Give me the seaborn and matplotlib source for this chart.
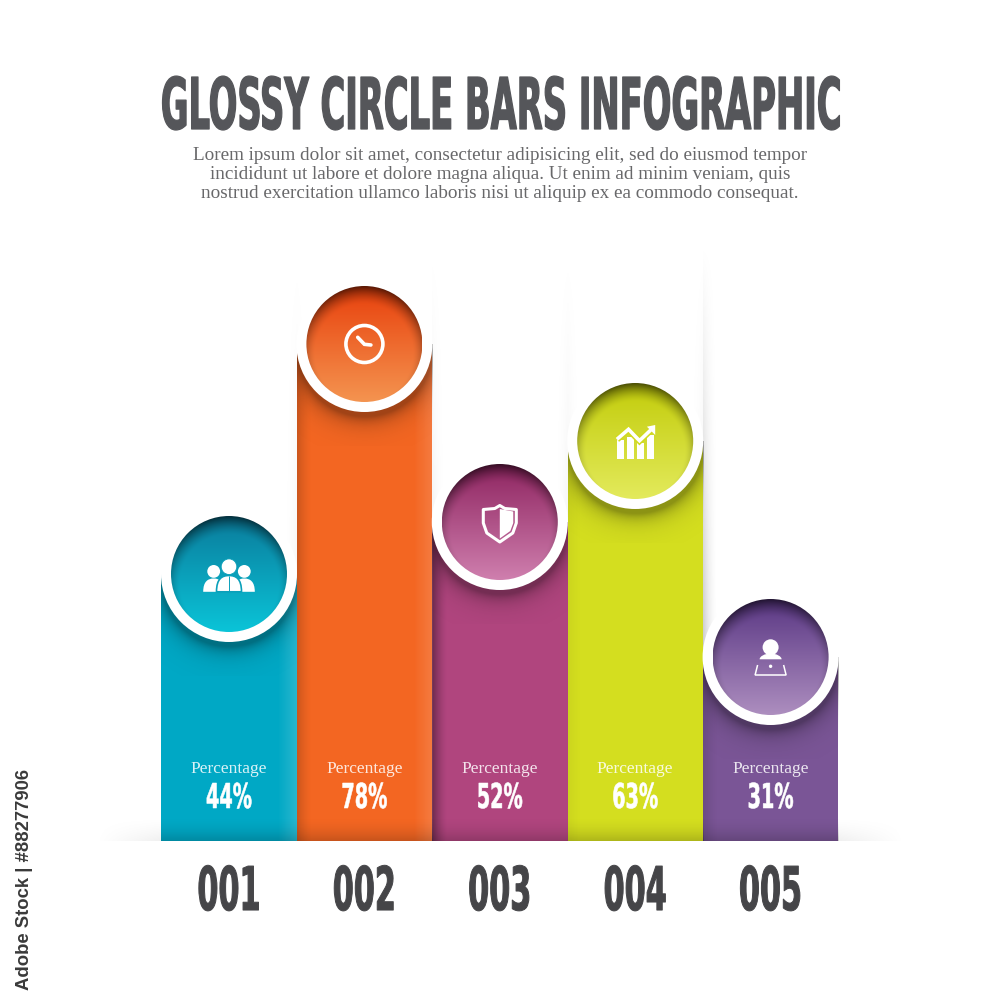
import numpy as np
import pandas as pd
import seaborn as sns
import matplotlib
matplotlib.use("Agg")
import matplotlib.pyplot as plt
from matplotlib.font_manager import FontProperties
from matplotlib.patches import Circle, Ellipse, Polygon, PathPatch, Rectangle
from matplotlib.path import Path
from matplotlib.patheffects import AbstractPathEffect
from matplotlib.textpath import TextPath
from matplotlib.transforms import Affine2D

# data
codes = ["001", "002", "003", "004", "005"]
percent = [44, 78, 52, 63, 31]
bar_height = [267, 497, 319, 400, 184]
bar_colors = ["#00a8c5", "#f36622", "#b0457e", "#d4de1f", "#7a5596"]
circle_top = ["#0a7b9b", "#e8400c", "#8e2460", "#c2cc0a", "#5a3784"]
circle_bottom = ["#0bc4d8", "#f49450", "#cf7fae", "#e3ea5c", "#ad8ebf"]

title = "GLOSSY CIRCLE BARS INFOGRAPHIC"
body = ("Lorem ipsum dolor sit amet, consectetur adipisicing elit, sed do eiusmod tempor\n"
        "incididunt ut labore et dolore magna aliqua. Ut enim ad minim veniam, quis\n"
        "nostrud exercitation ullamco laboris nisi ut aliquip ex ea commodo consequat.")
credit = "Adobe Stock | #88277906"

SLAB = "Liberation Serif"
UNIT = 135.4   # pixels per category
R_IN, R_OUT = 58, 68


class Tall(AbstractPathEffect):
    # the heavy condensed look: same text, stretched up from its baseline
    def __init__(self, sy, base_y, stroke=0.0):
        super().__init__()
        self.sy, self.base_y, self.stroke = sy, base_y, stroke

    def draw_path(self, renderer, gc, tpath, affine, rgbFace=None):
        aff = affine + Affine2D().translate(0, -self.base_y).scale(1, self.sy).translate(0, self.base_y)
        gc0 = renderer.new_gc()
        gc0.copy_properties(gc)
        gc0.set_linewidth(self.stroke)
        gc0.set_foreground(rgbFace)
        renderer.draw_path(gc0, tpath, aff, rgbFace)
        gc0.restore()


def heavy(txt, width, cap, base_y, stroke):
    # size the text to the wanted width, then stretch it to the wanted cap height
    txt.set_family("DejaVu Sans")
    txt.set_stretch("condensed")
    txt.set_weight("bold")
    rend = fig.canvas.get_renderer()
    txt.set_size(txt.get_size() * width / txt.get_window_extent(rend).width)
    prop = FontProperties(family="DejaVu Sans", stretch="condensed", weight="bold")
    ratio = TextPath((0, 0), "H", size=100, prop=prop).get_extents().height / 100
    sy = cap / (ratio * txt.get_size() * 100 / 72)
    txt.set_path_effects([Tall(sy, base_y, stroke)])


def rgb(c):
    return np.array(matplotlib.colors.to_rgb(c))


sns.set_theme(style="white")
fig = plt.figure(figsize=(10, 10), dpi=100)
ax = fig.add_axes([0, 0, 1, 1])

df = pd.DataFrame({"code": codes, "height": bar_height})
sns.barplot(data=df, x="code", y="height", hue="code", palette=bar_colors, width=1.0,
            saturation=1, legend=False, ax=ax, zorder=1, linewidth=0, edgecolor="none")
ax.set_xlabel("")
ax.set_ylabel("")


def put(img, x0, x1, y0, y1, z):
    # img row 0 is at y1 (the upper edge)
    return ax.imshow(img, extent=[x0, x1, y0, y1], origin="upper", aspect="auto",
                     interpolation="bilinear", zorder=z)


# floor shadow behind the bars
w = np.linspace(0, 1, 300)
edge = np.clip(np.minimum(w, 1 - w) / 0.12, 0, 1)
v = np.linspace(0, 1, 30)[:, None]
floor = np.zeros((30, 300, 4))
floor[..., 3] = 0.09 * v ** 1.5 * edge[None, :]
put(floor, -1.0, 5.0, 0, 26, 0.5)

# soft edges of the empty columns above the bars
for x_edge, side, strength in [(0.5, -1, 0.06), (0.5, 1, 0.06), (1.5, 1, 0.10), (2.5, -1, 0.08),
                               (2.5, 1, 0.08), (3.5, -1, 0.08), (3.5, 1, 0.30)]:
    ww = 16 / UNIT
    xs = np.linspace(0, 1, 30)
    a = (1 - xs) ** 2 if side > 0 else xs ** 2
    ys = np.linspace(0, 1, 200)[:, None]
    img = np.zeros((200, 30, 4))
    img[..., 3] = strength * ys * a[None, :]
    if side > 0:
        put(img, x_edge, x_edge + ww, 0, 600, 0.8)
    else:
        put(img, x_edge - ww, x_edge, 0, 600, 0.8)

# edge shading on the bars
left_dark = [0.0, 0.16, 0.38, 0.04, 0.12]
right_light = [0.16, 0.14, 0.0, 0.0, 0.0]
for i, h in enumerate(bar_height):
    xs = np.linspace(0, 1, 136)
    ld = left_dark[i] * np.clip(1 - xs / 0.11, 0, 1) ** 1.5
    rl = right_light[i] * np.clip((xs - 0.86) / 0.14, 0, 1)
    img = np.zeros((1, 136, 4))
    img[0, :, :3] = np.where((rl > 0)[:, None], 1.0, 0.0)
    img[0, :, 3] = ld + rl
    put(img, i - 0.5, i + 0.5, 0, h, 2)
    # bottom darkening
    ys = np.linspace(0, 1, 40)[:, None]
    img = np.zeros((40, 2, 4))
    img[..., 3] = 0.18 * ys ** 2
    put(img, i - 0.5, i + 0.5, 0, 26, 2.1)

# rings and glossy circles, placed on the bar tops
n = 240
yy, xx = np.mgrid[-1:1:n * 1j, -1:1:n * 1j]
for i, h in enumerate(bar_height):
    # shadow under the ring, kept inside the bar
    span = R_OUT + 34
    sh_n = 200
    sy_, sx_ = np.mgrid[-span:span:sh_n * 1j, -span:span:sh_n * 1j]
    d = np.hypot(sx_, sy_ - 5)
    img = np.zeros((sh_n, sh_n, 4))
    img[..., 3] = 0.34 * np.exp(-np.clip(d - R_OUT, 0, None) / 9)
    im = put(img, i - span / UNIT, i + span / UNIT, h - span, h + span, 3)
    im.set_clip_path(Rectangle((i - 0.5, 0), 1, h, transform=ax.transData))

    ax.add_patch(Ellipse((i, h), 2 * R_OUT / UNIT, 2 * R_OUT, fc="white", ec="none", zorder=4))

    t = ((yy + 1) / 2)[..., None]
    col = rgb(circle_top[i]) * (1 - t) + rgb(circle_bottom[i]) * t
    rim = np.clip((np.hypot(xx, yy - 0.16) - 0.84) / 0.32, 0, 1) ** 1.6
    col = col * (1 - 0.62 * rim[..., None])
    img = np.dstack([col, np.ones((n, n))])
    im = put(img, i - R_IN / UNIT, i + R_IN / UNIT, h - R_IN, h + R_IN, 5)
    clip = Ellipse((i, h), 2 * R_IN / UNIT, 2 * R_IN, transform=ax.transData)
    im.set_clip_path(clip)

ax.set_xlim(-229 / UNIT, (1000 - 229) / UNIT)
ax.set_ylim(-159, 841)
ax.grid(False)
sns.despine(ax=ax, left=True, top=True, right=True, bottom=True)
ax.spines["bottom"].set_position(("data", 0))
ax.set_yticks([])
fig.canvas.draw()


def icon_tf(i):
    # local icon coordinates are image pixels, y going down, from the circle centre
    cx, cy = ax.transData.transform((i, bar_height[i]))
    return Affine2D().scale(1, -1).translate(cx, cy)


def body_path(cx, hw, top, bot):
    verts = [(cx - hw, bot), (cx - hw, top + 3), (cx - hw * 0.55, top), (cx, top),
             (cx + hw * 0.55, top), (cx + hw, top + 3), (cx + hw, bot), (cx - hw, bot)]
    cc = [Path.MOVETO, Path.CURVE4, Path.CURVE4, Path.CURVE4,
          Path.CURVE4, Path.CURVE4, Path.CURVE4, Path.CLOSEPOLY]
    return Path(verts, cc)


def add(i, p):
    p.set_transform(icon_tf(i))
    p.set_zorder(6)
    p.set_clip_on(False)
    ax.add_artist(p)
    return p


# 001 people
mid = matplotlib.colors.to_hex((rgb(circle_top[0]) + rgb(circle_bottom[0])) / 2)
for sx in (-15.3, 15.3):
    add(0, Circle((sx, -2.6), 6.4, fc="white", ec="none"))
    add(0, PathPatch(body_path(sx, 10.5, 4.5, 17.8), fc="white", ec="none"))
add(0, Circle((0, -7.3), 7.8, fc="white", ec=mid, lw=0.6))
add(0, PathPatch(body_path(0, 12.5, 1.5, 17.8), fc="white", ec=mid, lw=1.2))
add(0, PathPatch(Path([(0, 2), (0, 17.5)]), ec=mid, lw=0.7, fc="none"))

# 002 clock
add(1, Circle((0, 0), 18.5, fc="none", ec="white", lw=2.6))
add(1, PathPatch(Path([(-6.7, -6.7), (0, 0.3), (6.5, 1)]), fc="none", ec="white", lw=2.6, capstyle="round"))

# 003 shield
sh = [(0, -16.5), (-5, -13.5), (-16.5, -12.5), (-16.5, 1), (-13, 11), (0, 20),
      (13, 11), (16.5, 1), (16.5, -12.5), (5, -13.5), (0, -16.5)]
add(2, Polygon(sh, closed=True, fc="none", ec="white", lw=2.2, joinstyle="round"))
add(2, Polygon([(0, -13), (13.5, -10.5), (13.5, 1), (10.5, 9), (0, 16.5)], closed=True, fc="white", ec="none"))

# 004 growth
lime = "#d1da1e"
for bx, top in zip([-14.7, -4.7, 5.3, 15.3], [-1, -4.3, 2.3, -6]):
    add(3, Rectangle((bx - 3.4, top), 6.8, 18 - top, fc="white", ec="none"))
line = Path([(-18.3, -1.7), (-6.7, -11.7), (4.3, -0.3), (15.5, -11)])
add(3, PathPatch(line, fc="none", ec=lime, lw=4.8))
add(3, PathPatch(line, fc="none", ec="white", lw=2.6))
add(3, Polygon([(20, -16), (11.7, -14.3), (20, -6)], closed=True, fc="white", ec="none"))

# 005 person at laptop
add(4, Circle((0, -9.7), 8, fc="white", ec="none"))
add(4, PathPatch(body_path(0, 11, -3.5, 2.3), fc="white", ec="none"))
add(4, Polygon([(-13, 8), (-15.5, 18), (15.5, 18), (13, 8)], closed=False, fc="none", ec="white", lw=1.1))
add(4, Circle((0, 9.3), 1.7, fc="white", ec="none"))

# texts inside the bars
for i, p in enumerate(percent):
    ax.text(i, 68, "Percentage", ha="center", va="baseline", family=SLAB, fontsize=12.5,
            color="white", alpha=0.85, zorder=7)
    tx = ax.text(i, 33, f"{p}%", ha="center", va="baseline", fontsize=18, color="white", zorder=7)
    heavy(tx, 46, 25, ax.transData.transform((i, 33))[1], 0.4)

# category codes under the bars
ax.set_xticks(range(len(codes)), codes)
ax.tick_params(axis="x", length=0, pad=49.7, labelbottom=True)
base = ax.transData.transform((0, -69))[1]
for lab in ax.get_xticklabels():
    lab.set_size(30)
    lab.set_color("#454548")
    lab.set_va("baseline")
    heavy(lab, 63, 44, base, 0.7)

# heading
tt = fig.text(0.501, 0.871, title, ha="center", va="baseline", fontsize=28, color="#55565a")
heavy(tt, 682, 52, 871, 0.9)
fig.text(0.5, 0.8255, body, ha="center", va="center", family=SLAB, fontsize=13.75,
         color="#68686a", linespacing=1.13)
fig.text(0.0245, 0.12, credit, rotation=90, ha="center", va="center", family="Liberation Sans",
         weight="bold", fontsize=13.3, color="#3a3a3a")

fig.savefig("out.png", dpi=100, facecolor="white")
